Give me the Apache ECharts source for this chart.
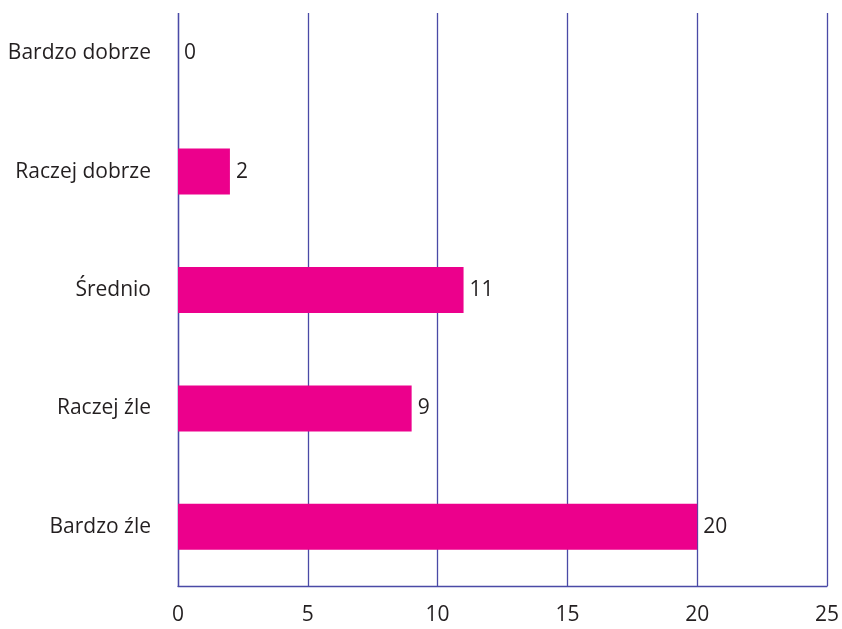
<!DOCTYPE html>
<html>
<head>
<meta charset="utf-8">
<script src="https://cdn.jsdelivr.net/npm/echarts@6/dist/echarts.min.js"></script>
<style>html,body{margin:0;padding:0;background:#fff;overflow:hidden;width:842px;height:629px}#c{width:842px;height:635px;margin-top:-6px}</style>
</head>
<body>
<div id="c"></div>
<script>
const categories = ['Bardzo dobrze', 'Raczej dobrze', 'Średnio', 'Raczej źle', 'Bardzo źle'];
const values = [0, 2, 11, 9, 20];
const xTicks = [0, 5, 10, 15, 20, 25];

const lineColor = '#4a4aa6';
const textColor = '#231f20';
const font = 'Open Sans';

const chart = echarts.init(document.getElementById('c'), null, {renderer: 'canvas'});
chart.setOption({
  animation: false,
  grid: {left: 178, width: 649, top: 0, height: 592, containLabel: false},
  xAxis: {
    type: 'value', min: xTicks[0], max: xTicks[xTicks.length - 1], interval: 5,
    axisLine: {show: true, lineStyle: {color: lineColor, width: 1.3}},
    axisTick: {show: false},
    splitLine: {show: true, lineStyle: {color: lineColor, width: 1.3}},
    axisLabel: {color: textColor, fontSize: 21, fontFamily: font, margin: 19}
  },
  yAxis: {
    type: 'category', data: categories, inverse: true,
    axisLine: {show: true, lineStyle: {color: lineColor, width: 1.3}},
    axisTick: {show: false},
    axisLabel: {color: textColor, fontSize: 21, fontFamily: font, margin: 27}
  },
  series: [{
    type: 'bar', data: values, barWidth: 46,
    itemStyle: {color: '#ec008c'},
    label: {show: true, position: 'right', distance: 6, color: textColor, fontSize: 21, fontFamily: font}
  }],
  graphic: [{
    type: 'rect', z: 100, left: 170, top: 0,
    shape: {x: 0, y: 0, width: 680, height: 19},
    style: {fill: '#ffffff'}
  }]
});
</script>
</body>
</html>
